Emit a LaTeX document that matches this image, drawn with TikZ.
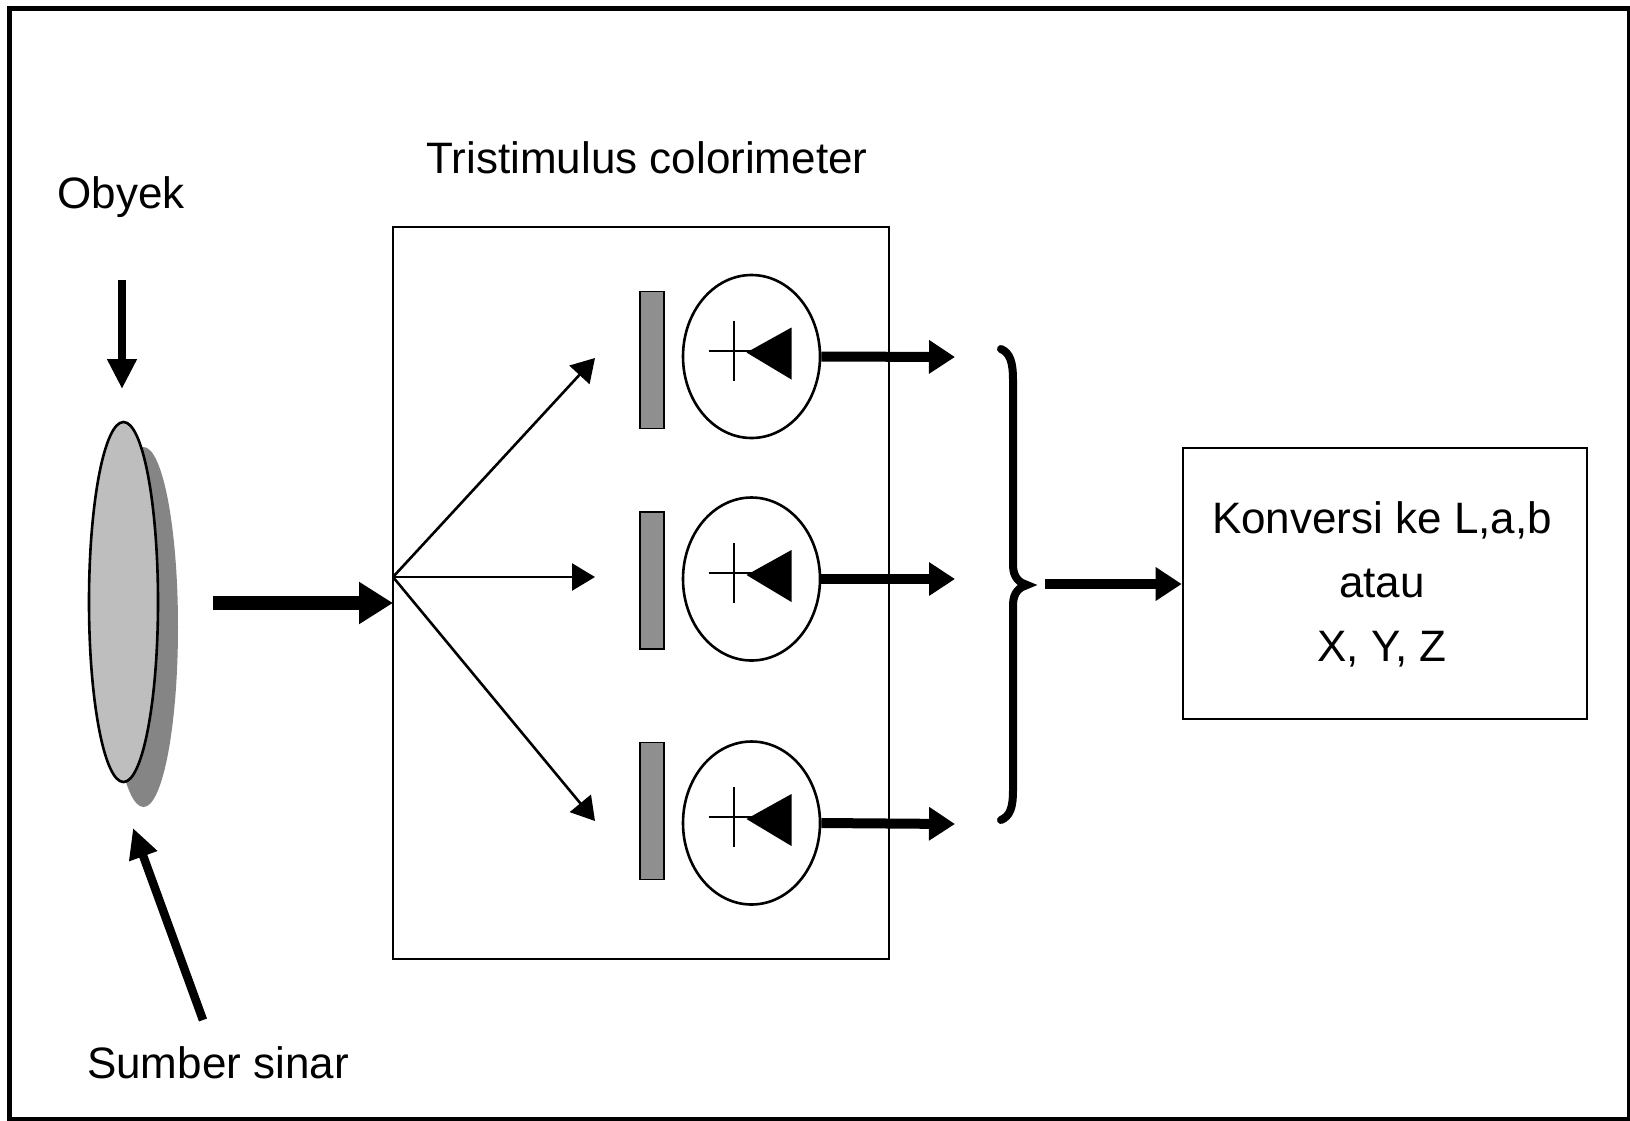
\documentclass[tikz,border=0pt]{standalone}
\usepackage{fontspec}
\setmainfont{Liberation Sans}
\usetikzlibrary{arrows.meta,shapes.geometric}
\definecolor{lensfront}{HTML}{BEBEBE}
\definecolor{lensback}{HTML}{858585}
\definecolor{filtergray}{HTML}{8F8F8F}
\begin{document}
\begin{tikzpicture}[x=1pt,y=-1pt,
  lbl/.style={font=\fontsize{44}{64}\selectfont, inner sep=0pt},
  frameline/.style={line width=2.6pt},
  thinarrow/.style={line width=2.6pt,-{Triangle[length=23pt,width=27pt]}},
  heavyarrow/.style={line width=10pt,-{Triangle[length=26pt,width=32pt]}},
  mainarrow/.style={line width=14pt,-{Triangle[length=34pt,width=40pt]}},
  sidearrow/.style={line width=8.5pt,-{Triangle[length=30pt,width=28pt]}},
  filterbox/.style={draw, line width=1.5pt, fill=filtergray, minimum width=24pt, minimum height=137pt, inner sep=0pt},
  detector/.style={draw, ellipse, line width=2.6pt, minimum width=137pt, minimum height=163pt, inner sep=0pt},
  ]
\useasboundingbox (0,0) rectangle (1630,1120);
\fill[white] (0,0) rectangle (1630,1120);
% outer frame
\draw[line width=5pt] (9.5,8.5) rectangle (1629,1119);

% lens with its shadow
\node[ellipse, fill=lensback, minimum width=69pt, minimum height=360pt, inner sep=0pt] (lensshadow) at (143.5,627) {};
\node[ellipse, draw, line width=2.6pt, fill=lensfront, minimum width=69pt, minimum height=360pt, inner sep=0pt] (lens) at (123.5,602) {};

% labels
\node[lbl] (obyek) at (121,197) {Obyek};
\node[lbl] (sumber) at (218,1063) {Sumber sinar};
\node[lbl] (title) at (647,158) {Tristimulus colorimeter};

% incoming arrows at the lens
\coordinate (objtop) at (122,280);
\coordinate (objtip) at (122,389);
\draw[sidearrow] (objtop) -- (objtip);
\coordinate (srcbase) at (203,1020);
\coordinate (srctip) at (133,828);
\draw[sidearrow] (srcbase) -- (srctip);

% colorimeter housing
\node[draw, line width=2.6pt, minimum width=496pt, minimum height=732pt, inner sep=0pt] (housing) at (641,593) {};

% light into the housing
\coordinate (beamstart) at (213,603);
\coordinate (beamend) at (393,603);
\draw[mainarrow] (beamstart) -- (beamend);

% splitting into three channels
\coordinate (fan) at (393,577);
\coordinate (tipa) at (595,358);
\coordinate (tipb) at (595,577);
\coordinate (tipc) at (595,821);
\draw[thinarrow] (fan) -- (tipa);
\draw[thinarrow] (fan) -- (tipb);
\draw[thinarrow] (fan) -- (tipc);

% filters
\node[filterbox] (fa) at (652,360) {};
\node[filterbox] (fb) at (652,580.5) {};
\node[filterbox] (fc) at (652,811) {};

% photodiodes
\node[detector] (da) at (751.5,356.5) {};
\node[detector] (db) at (751.5,579) {};
\node[detector] (dc) at (751.5,823) {};
\foreach \d in {da,db,dc}{
  \begin{scope}[shift={(\d.center)}]
    \draw[line width=2pt] (-43,-6) -- (2,-6);
    \draw[line width=2pt] (-18,-36) -- (-18,24);
    \fill (-5,-4) -- (40,-29) -- (40,23) -- cycle;
  \end{scope}
}

% detector outputs
\coordinate (oa) at (955,357);
\coordinate (ob) at (955,579);
\coordinate (oc) at (955,824);
\draw[heavyarrow] (da.east) -- (oa);
\draw[heavyarrow] (db.east) -- (ob);
\draw[heavyarrow] (dc.east) -- (oc);

% brace collecting the three signals
\draw[line width=8pt, line cap=round]
  (1001,349) .. controls (1010,353) and (1013,362) .. (1013,380)
  -- (1013,565) .. controls (1013,578) and (1020,583) .. (1027,585)
  .. controls (1020,587) and (1013,592) .. (1013,605)
  -- (1013,790) .. controls (1013,808) and (1010,816) .. (1001,820);

% conversion block
\node[draw, line width=2.6pt, minimum width=404pt, minimum height=271pt, inner sep=0pt] (konv) at (1385,583.5) {};
\node[lbl, align=center] (konvtext) at (1382,584) {Konversi ke L,a,b\\atau\\X, Y, Z};
\coordinate (joinstart) at (1045,584);
\draw[heavyarrow] (joinstart) -- (konv.west |- joinstart);
\end{tikzpicture}
\end{document}
